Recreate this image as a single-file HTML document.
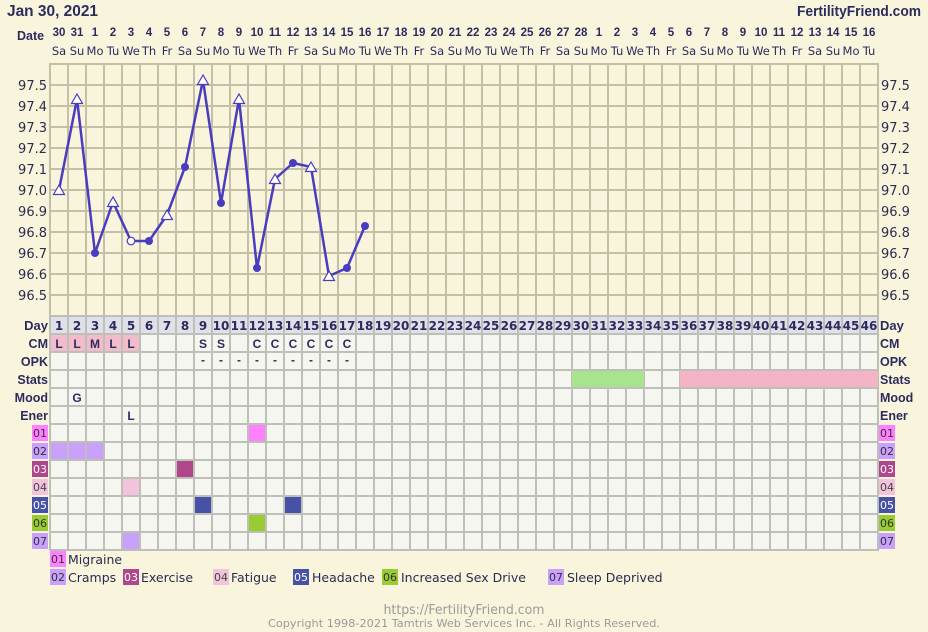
<!DOCTYPE html>
<html><head><meta charset="utf-8"><style>
html,body{margin:0;padding:0;background:#f9f5dd;}
svg{display:block;}
</style></head><body>
<svg width="928" height="632" viewBox="0 0 928 632" xmlns="http://www.w3.org/2000/svg">
<rect x="0" y="0" width="928" height="632" fill="#f9f5dd"/>
<!-- header -->
<text x="7" y="16" font-family="Liberation Sans, sans-serif" font-weight="bold" font-size="15.5" fill="#2b2b5e" textLength="91" lengthAdjust="spacingAndGlyphs">Jan 30, 2021</text>
<text x="921" y="16" text-anchor="end" font-family="Liberation Sans, sans-serif" font-weight="bold" font-size="15" fill="#2b2b5e" textLength="124" lengthAdjust="spacingAndGlyphs">FertilityFriend.com</text>
<text x="17" y="40" font-family="Liberation Sans, sans-serif" font-weight="bold" font-size="12.5" fill="#2b2b5e">Date</text>
<!-- date numbers -->
<g font-family="Liberation Sans, sans-serif" font-weight="bold" font-size="11.5" fill="#2b2b5e" text-anchor="middle">
<text x="59" y="36">30</text><text x="77" y="36">31</text><text x="95" y="36">1</text><text x="113" y="36">2</text><text x="131" y="36">3</text><text x="149" y="36">4</text><text x="167" y="36">5</text><text x="185" y="36">6</text><text x="203" y="36">7</text><text x="221" y="36">8</text><text x="239" y="36">9</text><text x="257" y="36">10</text><text x="275" y="36">11</text><text x="293" y="36">12</text><text x="311" y="36">13</text><text x="329" y="36">14</text><text x="347" y="36">15</text><text x="365" y="36">16</text><text x="383" y="36">17</text><text x="401" y="36">18</text><text x="419" y="36">19</text><text x="437" y="36">20</text><text x="455" y="36">21</text><text x="473" y="36">22</text><text x="491" y="36">23</text><text x="509" y="36">24</text><text x="527" y="36">25</text><text x="545" y="36">26</text><text x="563" y="36">27</text><text x="581" y="36">28</text><text x="599" y="36">1</text><text x="617" y="36">2</text><text x="635" y="36">3</text><text x="653" y="36">4</text><text x="671" y="36">5</text><text x="689" y="36">6</text><text x="707" y="36">7</text><text x="725" y="36">8</text><text x="743" y="36">9</text><text x="761" y="36">10</text><text x="779" y="36">11</text><text x="797" y="36">12</text><text x="815" y="36">13</text><text x="833" y="36">14</text><text x="851" y="36">15</text><text x="869" y="36">16</text>
</g>
<!-- day names -->
<g font-family="DejaVu Sans, sans-serif" font-size="11.5" fill="#2b2b5e" text-anchor="middle">
<text x="59" y="55">Sa</text><text x="77" y="55">Su</text><text x="95" y="55">Mo</text><text x="113" y="55">Tu</text><text x="131" y="55">We</text><text x="149" y="55">Th</text><text x="167" y="55">Fr</text>
<text x="185" y="55">Sa</text><text x="203" y="55">Su</text><text x="221" y="55">Mo</text><text x="239" y="55">Tu</text><text x="257" y="55">We</text><text x="275" y="55">Th</text><text x="293" y="55">Fr</text>
<text x="311" y="55">Sa</text><text x="329" y="55">Su</text><text x="347" y="55">Mo</text><text x="365" y="55">Tu</text><text x="383" y="55">We</text><text x="401" y="55">Th</text><text x="419" y="55">Fr</text>
<text x="437" y="55">Sa</text><text x="455" y="55">Su</text><text x="473" y="55">Mo</text><text x="491" y="55">Tu</text><text x="509" y="55">We</text><text x="527" y="55">Th</text><text x="545" y="55">Fr</text>
<text x="563" y="55">Sa</text><text x="581" y="55">Su</text><text x="599" y="55">Mo</text><text x="617" y="55">Tu</text><text x="635" y="55">We</text><text x="653" y="55">Th</text><text x="671" y="55">Fr</text>
<text x="689" y="55">Sa</text><text x="707" y="55">Su</text><text x="725" y="55">Mo</text><text x="743" y="55">Tu</text><text x="761" y="55">We</text><text x="779" y="55">Th</text><text x="797" y="55">Fr</text>
<text x="815" y="55">Sa</text><text x="833" y="55">Su</text><text x="851" y="55">Mo</text><text x="869" y="55">Tu</text>
</g>
<!-- lower grid background -->
<rect x="50" y="316" width="828" height="234" fill="#f6f6f1"/>
<rect x="50" y="316" width="828" height="18" fill="#e0e0e8"/>
<!-- CM pink -->
<rect x="50" y="334" width="90" height="18" fill="#f3bccb"/>
<!-- grid lines upper -->
<path stroke="#c5c0a5" stroke-width="2" fill="none" d="M50 64V316M68 64V316M86 64V316M104 64V316M122 64V316M140 64V316M158 64V316M176 64V316M194 64V316M212 64V316M230 64V316M248 64V316M266 64V316M284 64V316M302 64V316M320 64V316M338 64V316M356 64V316M374 64V316M392 64V316M410 64V316M428 64V316M446 64V316M464 64V316M482 64V316M500 64V316M518 64V316M536 64V316M554 64V316M572 64V316M590 64V316M608 64V316M626 64V316M644 64V316M662 64V316M680 64V316M698 64V316M716 64V316M734 64V316M752 64V316M770 64V316M788 64V316M806 64V316M824 64V316M842 64V316M860 64V316M878 64V316M49 64H879M49 85H879M49 106H879M49 127H879M49 148H879M49 169H879M49 190H879M49 211H879M49 232H879M49 253H879M49 274H879M49 295H879"/>
<!-- grid lines lower -->
<path stroke="#bfbfba" stroke-width="2" fill="none" d="M50 316V550M68 316V550M86 316V550M104 316V550M122 316V550M140 316V550M158 316V550M176 316V550M194 316V550M212 316V550M230 316V550M248 316V550M266 316V550M284 316V550M302 316V550M320 316V550M338 316V550M356 316V550M374 316V550M392 316V550M410 316V550M428 316V550M446 316V550M464 316V550M482 316V550M500 316V550M518 316V550M536 316V550M554 316V550M572 316V550M590 316V550M608 316V550M626 316V550M644 316V550M662 316V550M680 316V550M698 316V550M716 316V550M734 316V550M752 316V550M770 316V550M788 316V550M806 316V550M824 316V550M842 316V550M860 316V550M878 316V550M49 316H879M49 334H879M49 352H879M49 370H879M49 388H879M49 406H879M49 424H879M49 442H879M49 460H879M49 478H879M49 496H879M49 514H879M49 532H879M49 550H879"/>
<!-- stats fills -->
<rect x="572" y="371" width="72" height="16" fill="#a8e48c"/>
<rect x="680" y="371" width="198" height="16" fill="#f4b3c7"/>
<!-- symptom cells -->
<rect x="249" y="425" width="16" height="16" fill="#ff80ff"/>
<rect x="51" y="443" width="16" height="16" fill="#c9a0fc"/>
<rect x="69" y="443" width="16" height="16" fill="#c9a0fc"/>
<rect x="87" y="443" width="16" height="16" fill="#c9a0fc"/>
<rect x="177" y="461" width="16" height="16" fill="#b0478a"/>
<rect x="123" y="479" width="16" height="16" fill="#f2c4dc"/>
<rect x="195" y="497" width="16" height="16" fill="#4752a6"/>
<rect x="285" y="497" width="16" height="16" fill="#4752a6"/>
<rect x="249" y="515" width="16" height="16" fill="#99cc33"/>
<rect x="123" y="533" width="16" height="16" fill="#c9a0fc"/>
<!-- y labels -->
<g font-family="DejaVu Sans, sans-serif" font-size="13" fill="#2b2b4e">
<g text-anchor="end">
<text x="47" y="90">97.5</text><text x="47" y="111">97.4</text><text x="47" y="132">97.3</text><text x="47" y="153">97.2</text><text x="47" y="174">97.1</text><text x="47" y="195">97.0</text><text x="47" y="216">96.9</text><text x="47" y="237">96.8</text><text x="47" y="258">96.7</text><text x="47" y="279">96.6</text><text x="47" y="300">96.5</text>
</g>
<text x="881" y="90">97.5</text><text x="881" y="111">97.4</text><text x="881" y="132">97.3</text><text x="881" y="153">97.2</text><text x="881" y="174">97.1</text><text x="881" y="195">97.0</text><text x="881" y="216">96.9</text><text x="881" y="237">96.8</text><text x="881" y="258">96.7</text><text x="881" y="279">96.6</text><text x="881" y="300">96.5</text>
</g>
<!-- row labels -->
<g font-family="Liberation Sans, sans-serif" font-weight="bold" fill="#2b2b5e">
<g text-anchor="end">
<text x="48" y="330" font-size="13">Day</text>
<text x="48" y="348" font-size="12.5">CM</text>
<text x="48" y="366" font-size="12.5">OPK</text>
<text x="48" y="384" font-size="12.5">Stats</text>
<text x="48" y="402" font-size="12.5">Mood</text>
<text x="48" y="420" font-size="12.5">Ener</text>
</g>
<text x="880" y="330" font-size="13">Day</text>
<text x="880" y="348" font-size="12.5">CM</text>
<text x="880" y="366" font-size="12.5">OPK</text>
<text x="880" y="384" font-size="12.5">Stats</text>
<text x="880" y="402" font-size="12.5">Mood</text>
<text x="880" y="420" font-size="12.5">Ener</text>
</g>
<!-- day numbers -->
<g font-family="DejaVu Sans, sans-serif" font-weight="bold" font-size="12" fill="#2b2b5e" text-anchor="middle">
<text x="59" y="330">1</text><text x="77" y="330">2</text><text x="95" y="330">3</text><text x="113" y="330">4</text><text x="131" y="330">5</text><text x="149" y="330">6</text><text x="167" y="330">7</text><text x="185" y="330">8</text><text x="203" y="330">9</text>
<text x="221" y="330">10</text><text x="239" y="330">11</text><text x="257" y="330">12</text><text x="275" y="330">13</text><text x="293" y="330">14</text><text x="311" y="330">15</text><text x="329" y="330">16</text><text x="347" y="330">17</text><text x="365" y="330">18</text><text x="383" y="330">19</text><text x="401" y="330">20</text><text x="419" y="330">21</text><text x="437" y="330">22</text><text x="455" y="330">23</text><text x="473" y="330">24</text><text x="491" y="330">25</text><text x="509" y="330">26</text><text x="527" y="330">27</text><text x="545" y="330">28</text><text x="563" y="330">29</text><text x="581" y="330">30</text><text x="599" y="330">31</text><text x="617" y="330">32</text><text x="635" y="330">33</text><text x="653" y="330">34</text><text x="671" y="330">35</text><text x="689" y="330">36</text><text x="707" y="330">37</text><text x="725" y="330">38</text><text x="743" y="330">39</text><text x="761" y="330">40</text><text x="779" y="330">41</text><text x="797" y="330">42</text><text x="815" y="330">43</text><text x="833" y="330">44</text><text x="851" y="330">45</text><text x="869" y="330">46</text>
</g>
<!-- CM / OPK / Mood / Ener -->
<g font-family="Liberation Sans, sans-serif" font-weight="bold" font-size="12" fill="#2b2b5e" text-anchor="middle">
<text x="59" y="348">L</text><text x="77" y="348">L</text><text x="95" y="348">M</text><text x="113" y="348">L</text><text x="131" y="348">L</text>
<text x="203" y="348">S</text><text x="221" y="348">S</text><text x="257" y="348">C</text><text x="275" y="348">C</text><text x="293" y="348">C</text><text x="311" y="348">C</text><text x="329" y="348">C</text><text x="347" y="348">C</text>
<text x="203" y="364">-</text><text x="221" y="364">-</text><text x="239" y="364">-</text><text x="257" y="364">-</text><text x="275" y="364">-</text><text x="293" y="364">-</text><text x="311" y="364">-</text><text x="329" y="364">-</text><text x="347" y="364">-</text>
<text x="77" y="402">G</text>
<text x="131" y="420">L</text>
</g>
<!-- symptom row label boxes -->
<g font-family="DejaVu Sans, sans-serif" font-size="11">
<rect x="32" y="425" width="16" height="16" fill="#ff80ff"/><text x="33" y="437" fill="#333">01</text>
<rect x="32" y="443" width="16" height="16" fill="#c9a0fc"/><text x="33" y="455" fill="#333">02</text>
<rect x="32" y="461" width="16" height="16" fill="#b0478a"/><text x="33" y="473" fill="#fff">03</text>
<rect x="32" y="479" width="16" height="16" fill="#f2c4dc"/><text x="33" y="491" fill="#444">04</text>
<rect x="32" y="497" width="16" height="16" fill="#4752a6"/><text x="33" y="509" fill="#fff">05</text>
<rect x="32" y="515" width="16" height="16" fill="#99cc33"/><text x="33" y="527" fill="#333">06</text>
<rect x="32" y="533" width="16" height="16" fill="#c9a0fc"/><text x="33" y="545" fill="#333">07</text>
<rect x="879" y="425" width="16" height="16" fill="#ff80ff"/><text x="880" y="437" fill="#333">01</text>
<rect x="879" y="443" width="16" height="16" fill="#c9a0fc"/><text x="880" y="455" fill="#333">02</text>
<rect x="879" y="461" width="16" height="16" fill="#b0478a"/><text x="880" y="473" fill="#fff">03</text>
<rect x="879" y="479" width="16" height="16" fill="#f2c4dc"/><text x="880" y="491" fill="#444">04</text>
<rect x="879" y="497" width="16" height="16" fill="#4752a6"/><text x="880" y="509" fill="#fff">05</text>
<rect x="879" y="515" width="16" height="16" fill="#99cc33"/><text x="880" y="527" fill="#333">06</text>
<rect x="879" y="533" width="16" height="16" fill="#c9a0fc"/><text x="880" y="545" fill="#333">07</text>
</g>
<!-- temperature line -->
<polyline fill="none" stroke="#4a3cc0" stroke-width="2.5" stroke-linejoin="round" points="59,190 77,99 95,253 113,202 131,241 149,241 167,215 185,167 203,80 221,203 239,99 257,268 275,179 293,163 311,167 329,276 347,268 365,226"/>
<g fill="#ffffff" stroke="#4a3cc0" stroke-width="1.2">
<polygon points="59,185 53.5,194.5 64.5,194.5"/>
<polygon points="77,94 71.5,103.5 82.5,103.5"/>
<polygon points="113,197 107.5,206.5 118.5,206.5"/>
<polygon points="167,210 161.5,219.5 172.5,219.5"/>
<polygon points="203,75 197.5,84.5 208.5,84.5"/>
<polygon points="239,94 233.5,103.5 244.5,103.5"/>
<polygon points="275,174 269.5,183.5 280.5,183.5"/>
<polygon points="311,162 305.5,171.5 316.5,171.5"/>
<polygon points="329,271 323.5,280.5 334.5,280.5"/>
<circle cx="131" cy="241" r="3.8"/>
</g>
<g fill="#4a3cc0">
<circle cx="95" cy="253" r="4"/><circle cx="149" cy="241" r="4"/><circle cx="185" cy="167" r="4"/><circle cx="221" cy="203" r="4"/><circle cx="257" cy="268" r="4"/><circle cx="293" cy="163" r="4"/><circle cx="347" cy="268" r="4"/><circle cx="365" cy="226" r="4"/>
</g>
<!-- legend -->
<g font-family="DejaVu Sans, sans-serif">
<rect x="50" y="551" width="16" height="16" fill="#ff80ff"/><text x="51" y="563" font-size="11" fill="#333">01</text><text x="68" y="564" font-size="12.5" fill="#2b2b4e">Migraine</text>
<rect x="50" y="569" width="16" height="16" fill="#c9a0fc"/><text x="51" y="581" font-size="11" fill="#333">02</text><text x="68" y="582" font-size="12.5" fill="#2b2b4e">Cramps</text>
<rect x="123" y="569" width="16" height="16" fill="#b0478a"/><text x="124" y="581" font-size="11" fill="#fff">03</text><text x="141" y="582" font-size="12.5" fill="#2b2b4e">Exercise</text>
<rect x="213" y="569" width="16" height="16" fill="#f2c4dc"/><text x="214" y="581" font-size="11" fill="#444">04</text><text x="231" y="582" font-size="12.5" fill="#2b2b4e">Fatigue</text>
<rect x="293" y="569" width="16" height="16" fill="#4752a6"/><text x="294" y="581" font-size="11" fill="#fff">05</text><text x="312" y="582" font-size="12.5" fill="#2b2b4e">Headache</text>
<rect x="382" y="569" width="16" height="16" fill="#99cc33"/><text x="383" y="581" font-size="11" fill="#333">06</text><text x="401" y="582" font-size="12.5" fill="#2b2b4e">Increased Sex Drive</text>
<rect x="548" y="569" width="16" height="16" fill="#c9a0fc"/><text x="549" y="581" font-size="11" fill="#333">07</text><text x="567" y="582" font-size="12.5" fill="#2b2b4e">Sleep Deprived</text>
</g>
<!-- footer -->
<text x="464" y="614" text-anchor="middle" font-family="DejaVu Sans, sans-serif" font-size="13" fill="#9a9a9a" textLength="161" lengthAdjust="spacingAndGlyphs">https://FertilityFriend.com</text>
<text x="464" y="627" text-anchor="middle" font-family="DejaVu Sans, sans-serif" font-size="10.5" fill="#9a9a9a" textLength="392" lengthAdjust="spacingAndGlyphs">Copyright 1998-2021 Tamtris Web Services Inc. - All Rights Reserved.</text>
</svg>
</body></html>
